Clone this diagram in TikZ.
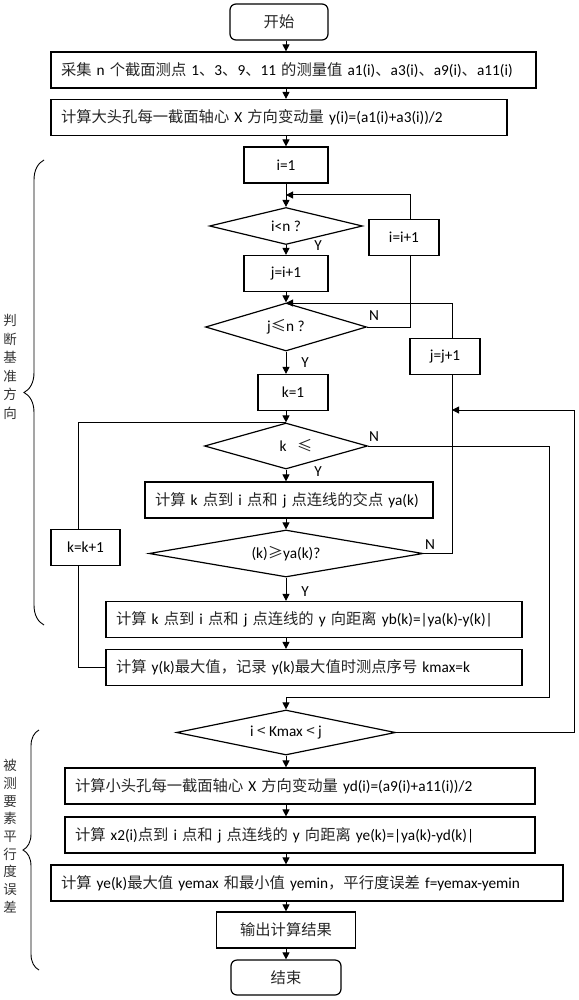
\documentclass[tikz,border=0pt]{standalone}
\usepackage{fontspec}
\setmainfont{Carlito}
\newfontfamily\cjk{Noto Sans CJK SC}
\newcommand{\zh}[1]{{\cjk\color{black!85}#1}}
\usetikzlibrary{shapes.geometric, arrows.meta, decorations.pathreplacing}
\tikzset{
  fc box/.style={draw, line width=1.2pt, minimum height=36pt, inner xsep=10pt, inner ysep=2pt, font=\fontsize{15.3}{18}\selectfont},
  fc long/.style={fc box, text width=#1, align=left},
  fc small/.style={fc box, minimum width=#1, align=center},
  fc term/.style={fc box, rounded corners=6pt, minimum width=#1},
  fc cond/.style={draw, line width=1.2pt, shape=diamond, aspect=4, inner sep=1pt, font=\fontsize{15.3}{18}\selectfont},
  fc line/.style={draw, line width=1pt},
  fc arrow/.style={fc line, -{Triangle[length=7pt,width=7pt]}},
  lbl/.style={font=\fontsize{15.3}{18}\selectfont, inner sep=1pt},
  grp brace/.style={draw, line width=0.9pt, decorate, decoration={brace, amplitude=#1}},
  grp lbl/.style={font=\cjk\fontsize{13.5}{#1}\selectfont, align=center, text=black!80, inner sep=0pt}
}

\begin{document}
\begin{tikzpicture}[x=1pt, y=-1pt]
\useasboundingbox (0,0) rectangle (578,1000);

% columns the connectors run along
\coordinate (col)  at (286,0);
\coordinate (icol) at (410,0);
\coordinate (jcol) at (452,0);
\coordinate (kcol) at (78.5,0);
\coordinate (ncol) at (549,0);
\coordinate (ocol) at (574,0);
\coordinate (m1) at (286,195);
\coordinate (m2) at (286,303);
\coordinate (m3) at (286,697);
\coordinate (m4) at (452,410);

% main column
\node[fc term=98pt] (start) at (279,22) {\zh{开始}};
\node[fc long=465pt] (read) at (293.5,70) {\mbox{\zh{采集} n \zh{个截面测点} 1\zh{、}3\zh{、}9\zh{、}11 \zh{的测量值} a1(i)\zh{、}a3(i)\zh{、}a9(i)\zh{、}a11(i)}};
\node[fc long=436pt] (calcy) at (279,117.5) {\zh{计算大头孔每一截面轴心} X \zh{方向变动量} y(i)=(a1(i)+a3(i))/2};
\node[fc small=84pt] (ione) at (286,165) {i=1};
\node[fc cond, minimum width=153pt, minimum height=37pt] (dia1) at (286,226) {i<n ?};
\node[fc small=84pt] (jset) at (286,273.5) {j=i+1};
\node[fc cond, minimum width=161pt, minimum height=48pt] (dia2) at (286,327) {j\zh{≤}n ?};
\node[fc small=70pt] (kone) at (293,392.5) {k=1};
\node[fc cond, minimum width=163pt, minimum height=46pt] (dia3) at (286,446) {\hspace{20pt}k\ \ \ \zh{≤}};
\node[fc long=268pt] (calcya) at (289,500) {\mbox{\zh{计算} k \zh{点到} i \zh{点和} j \zh{点连线的交点} ya(k)}};
\node[fc cond, minimum width=274pt, minimum height=47pt] (dia4) at (286,553.5) {(k)\zh{≥}ya(k)?};
\node[fc long=396pt] (calcyb) at (314,619.5) {\zh{计算} k \zh{点到} i \zh{点和} j \zh{点连线的} y \zh{向距离} yb(k)=|ya(k)-y(k)|};
\node[fc long=396pt] (calcmax) at (314,667.5) {\zh{计算} y(k)\zh{最大值，记录} y(k)\zh{最大值时测点序号} kmax=k};
\node[fc cond, minimum width=219pt, minimum height=45pt] (dia5) at (286,732.5) {i \zh{<} Kmax \zh{<} j};
\node[fc long=450pt] (calcyd) at (300,786) {\zh{计算小头孔每一截面轴心} X \zh{方向变动量} yd(i)=(a9(i)+a11(i))/2};
\node[fc long=450pt] (calcye) at (300,835) {\zh{计算} x2(i)\zh{点到} i \zh{点和} j \zh{点连线的} y \zh{向距离} ye(k)=|ya(k)-yd(k)|};
\node[fc long=492pt] (calcf) at (307,883) {\zh{计算} ye(k)\zh{最大值} yemax \zh{和最小值} yemin\zh{，平行度误差} f=yemax-yemin};
\node[fc small=139pt] (output) at (286,930) {\zh{输出计算结果}};
\node[fc term=110pt, minimum height=35pt] (end) at (286,977.5) {\zh{结束}};

% side boxes
\node[fc small=70pt] (iinc) at (404,237.5) {i=i+1};
\node[fc small=70pt] (jinc) at (445,356.5) {j=j+1};
\node[fc small=69pt] (kinc) at (85.5,547.5) {k=k+1};

% straight arrows down the main column
\foreach \a/\b in {start/read, read/calcy, calcy/ione, ione/dia1, dia1/jset, jset/dia2,
                   dia2/kone, kone/dia3, dia3/calcya, calcya/dia4, dia4/calcyb, calcyb/calcmax,
                   dia5/calcyd, calcyd/calcye, calcye/calcf, calcf/output, output/end}
  \draw[fc arrow] (\a.south -| col) -- (\b.north -| col);

% loops
\draw[fc line] (dia2.east) -| (iinc.south -| icol);
\draw[fc arrow] (iinc.north -| icol) |- (m1);
\draw[fc line] (dia4.east) -| (jinc.south -| jcol);
\draw[fc arrow] (jinc.north -| jcol) |- (m2);
\draw[fc line] (calcmax.west) -| (kinc.south -| kcol);
\draw[fc line] (kinc.north -| kcol) |- (dia3.north);
\draw[fc arrow] (dia3.east) -| (ncol |- m3) -| (dia5.north);
\draw[fc arrow] (dia5.east) -| (ocol |- m4) -- (m4);

% Y / N
\node[lbl] (y1) at (318,246) {Y};
\node[lbl] (n1) at (374,316) {N};
\node[lbl] (y2) at (305,363) {Y};
\node[lbl] (n2) at (374,437) {N};
\node[lbl] (y3) at (318,472) {Y};
\node[lbl] (n3) at (430,545) {N};
\node[lbl] (y4) at (305,592) {Y};

% groups
\draw[grp brace=20pt] (44,625) -- (44,160);
\node[grp lbl=18.5pt] (g1) at (10,367) {判\\断\\基\\准\\方\\向};
\draw[grp brace=16pt] (39,970) -- (39,730);
\node[grp lbl=17.7pt] (g2) at (10,836) {被\\测\\要\\素\\平\\行\\度\\误\\差};
\end{tikzpicture}
\end{document}
